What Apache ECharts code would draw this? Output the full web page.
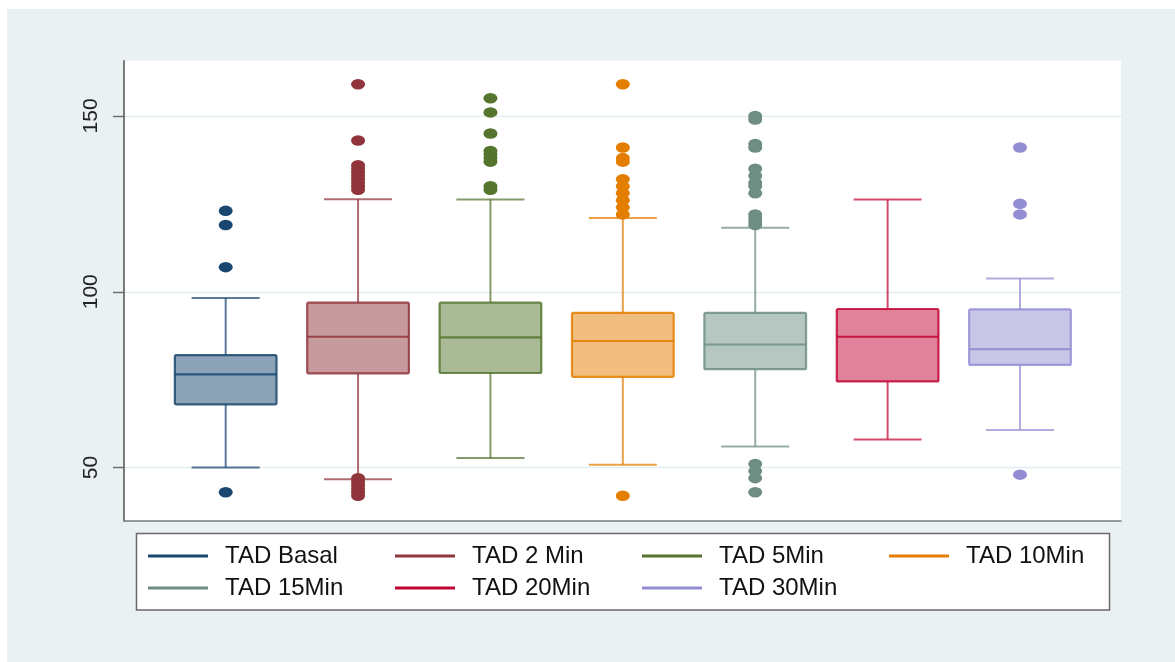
<!DOCTYPE html>
<html>
<head>
<meta charset="utf-8">
<script src="https://cdn.jsdelivr.net/npm/echarts@6/dist/echarts.min.js"></script>
<style>
  html, body { margin: 0; padding: 0; background: #ffffff; }
  #bg { position: absolute; left: 7px; top: 9px; width: 1168px; height: 653px; background: #e9f1f3; }
  #chart { position: absolute; left: 0; top: 0; width: 1175px; height: 662px; }
</style>
</head>
<body>
<div id="bg"></div>
<div id="chart"></div>
<script>
// ---- data ----
const categories = ['TAD Basal', 'TAD 2 Min', 'TAD 5Min', 'TAD 10Min', 'TAD 15Min', 'TAD 20Min', 'TAD 30Min'];
const lowerWhisker = [50, 46.7, 52.7, 50.8, 56, 58, 60.7];
const q1Values = [68, 76.8, 76.9, 75.8, 78, 74.5, 79.2];
const medianValues = [76.5, 87.2, 87, 86, 85, 87.2, 83.7];
const q3Values = [82, 96.9, 96.9, 94, 94, 95.1, 95];
const upperWhisker = [98.2, 126.3, 126.2, 121, 118.2, 126.2, 103.8];
const outliersBasal = [123, 119, 107, 43];
const outliers2Min = [159, 143, 136, 135, 134, 133, 132, 131, 130, 129, 47, 46, 45, 44, 43, 42];
const outliers5Min = [155, 151, 145, 140, 139, 138, 137, 130, 129];
const outliers10Min = [159, 141, 138, 137, 132, 130, 128, 126, 124, 122, 42];
const outliers15Min = [150, 149, 142, 141, 135, 133, 131, 130, 128, 122, 121, 120, 119, 51, 49, 47, 43];
const outliers20Min = [];
const outliers30Min = [141, 125, 122, 48];
const yTickValues = [50, 100, 150];

const outlierLists = [outliersBasal, outliers2Min, outliers5Min, outliers10Min, outliers15Min, outliers20Min, outliers30Min];
const colors = ['#1a476f', '#90353b', '#55752f', '#e37e00', '#6e8e84', '#c10534', '#938dd2'];

const BOX_HALF = 0.384;
const CAP_HALF = 0.257;
const FONT = 'Liberation Sans, Arial, sans-serif';

function hexToRgba(hex, a) {
  const n = parseInt(hex.slice(1), 16);
  return 'rgba(' + ((n >> 16) & 255) + ',' + ((n >> 8) & 255) + ',' + (n & 255) + ',' + a + ')';
}

function makeRender(color) {
  return function (params, api) {
    const x = api.value(0);
    const pLo = api.coord([x, api.value(1)]);
    const pQ1 = api.coord([x, api.value(2)]);
    const pMed = api.coord([x, api.value(3)]);
    const pQ3 = api.coord([x, api.value(4)]);
    const pHi = api.coord([x, api.value(5)]);
    const bl = api.coord([x - BOX_HALF, api.value(2)])[0];
    const br = api.coord([x + BOX_HALF, api.value(2)])[0];
    const cl = api.coord([x - CAP_HALF, api.value(2)])[0];
    const cr = api.coord([x + CAP_HALF, api.value(2)])[0];
    const cx = pMed[0];
    const wStyle = { stroke: hexToRgba(color, 0.72), lineWidth: 2 };
    return {
      type: 'group',
      children: [
        { type: 'line', shape: { x1: cx, y1: pQ3[1], x2: cx, y2: pHi[1] }, style: wStyle },
        { type: 'line', shape: { x1: cx, y1: pQ1[1], x2: cx, y2: pLo[1] }, style: wStyle },
        { type: 'line', shape: { x1: cl, y1: pHi[1], x2: cr, y2: pHi[1] }, style: wStyle },
        { type: 'line', shape: { x1: cl, y1: pLo[1], x2: cr, y2: pLo[1] }, style: wStyle },
        { type: 'rect', shape: { x: bl, y: pQ3[1], width: br - bl, height: pQ1[1] - pQ3[1], r: 1.5 },
          style: { fill: hexToRgba(color, 0.5), stroke: hexToRgba(color, 0.85), lineWidth: 2.2 } },
        { type: 'line', shape: { x1: bl, y1: pMed[1], x2: br, y2: pMed[1] },
          style: { stroke: hexToRgba(color, 0.85), lineWidth: 2.2 } }
      ]
    };
  };
}

const series = [];
categories.forEach(function (name, i) {
  series.push({
    name: name,
    type: 'custom',
    renderItem: makeRender(colors[i]),
    itemStyle: { color: colors[i] },
    encode: { x: 0, y: [1, 2, 3, 4, 5] },
    data: [[i, lowerWhisker[i], q1Values[i], medianValues[i], q3Values[i], upperWhisker[i]]],
    z: 2
  });
});
categories.forEach(function (name, i) {
  series.push({
    name: name,
    type: 'scatter',
    symbol: 'circle',
    symbolSize: [14, 10.5],
    itemStyle: { color: colors[i], opacity: 1 },
    data: outlierLists[i].map(function (v) { return [i, v]; }),
    z: 3
  });
});

const chart = echarts.init(document.getElementById('chart'), null, { renderer: 'canvas' });
chart.setOption({
  animation: false,
  backgroundColor: 'transparent',
  grid: {
    left: 124, top: 60.7, right: 1175 - 1121, bottom: 662 - 520.7,
    show: true, backgroundColor: '#ffffff', borderWidth: 0
  },
  xAxis: {
    type: 'value', min: -0.768, max: 6.763,
    axisLine: { show: true, onZero: false, lineStyle: { color: '#7a7a7a', width: 1.6 } },
    axisTick: { show: false }, axisLabel: { show: false }, splitLine: { show: false }
  },
  yAxis: {
    type: 'value', min: 34.9, max: 165.7,
    axisLine: { show: true, onZero: false, lineStyle: { color: '#5a5a5a', width: 1.6 } },
    axisTick: { show: true, length: 11, customValues: yTickValues, lineStyle: { color: '#6a6a6a', width: 1.4 } },
    axisLabel: { customValues: yTickValues, rotate: 90, margin: 22, fontSize: 21, color: '#222', fontFamily: FONT },
    splitLine: { show: true, lineStyle: { color: '#e4edf0', width: 1.4 } }
  },
  legend: {
    left: 148, top: 542.5, width: 1000,
    padding: 0,
    itemWidth: 60, itemHeight: 3, itemGap: 5,
    icon: 'rect',
    selectedMode: false,
    data: categories,
    formatter: function (n) { return '{t|' + n + '}'; },
    textStyle: {
      rich: { t: { width: 165, fontSize: 24, height: 27, lineHeight: 27, fontFamily: FONT, color: '#111', padding: [0, 0, 0, 12] } }
    }
  },
  graphic: [
    { type: 'rect', z: 0, silent: true,
      shape: { x: 136.5, y: 533.5, width: 973, height: 76.5 },
      style: { fill: '#ffffff', stroke: '#6a6a6a', lineWidth: 1.5 } }
  ],
  series: series
});
</script>
</body>
</html>
